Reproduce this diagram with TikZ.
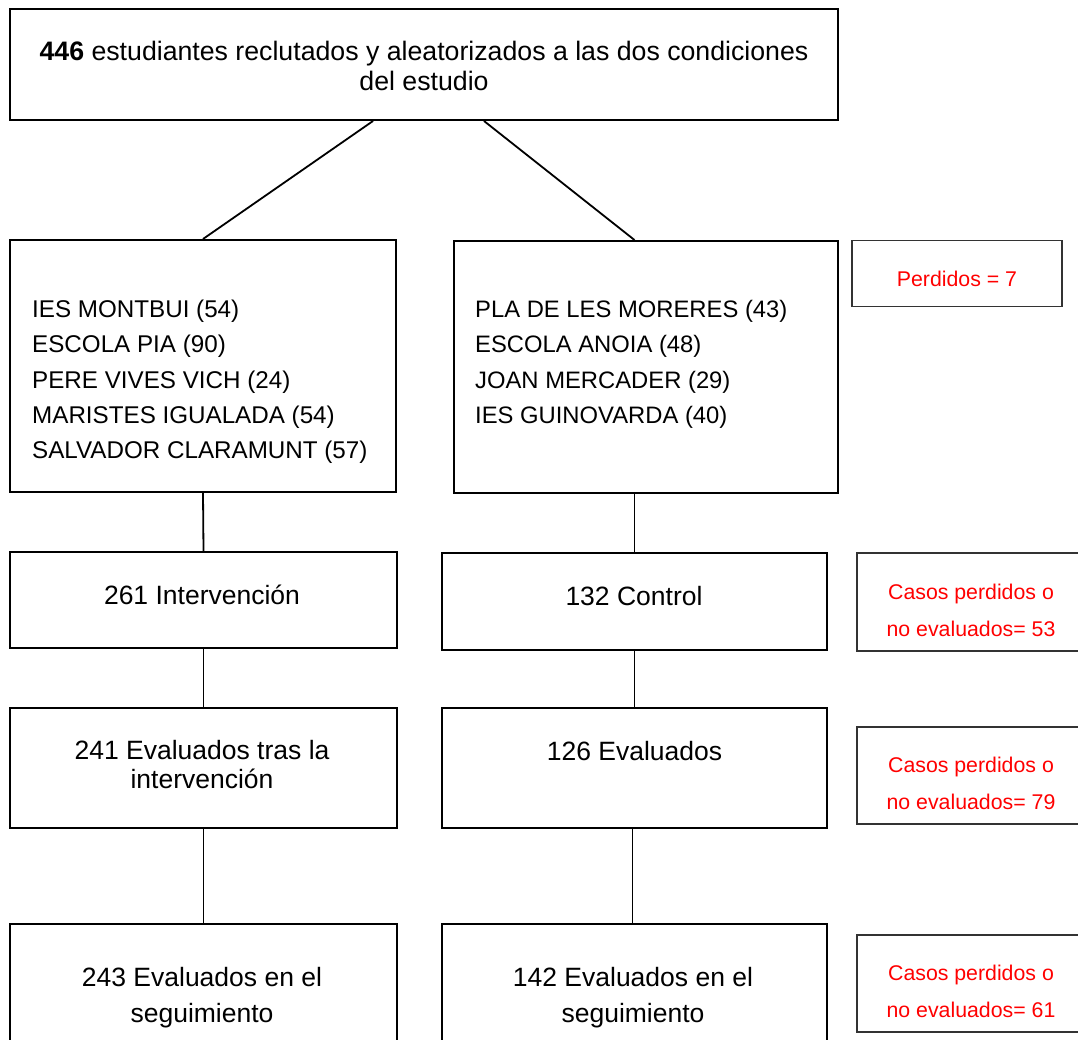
\documentclass[tikz,border=0pt]{standalone}
\usepackage{fontspec}
\setmainfont{Liberation Sans}
\begin{document}
\begin{tikzpicture}[x=1pt,y=-1pt,
  box/.style={draw=black, line width=2pt, inner sep=0pt},
  redbox/.style={draw=black!80, line width=1.4pt, inner sep=0pt},
  conn/.style={draw=black, line width=1.8pt},
  txt/.style={inner sep=0pt, anchor=base, font=\fontsize{26.5}{30}\selectfont},
  lst/.style={inner sep=0pt, anchor=base west, font=\fontsize{24.2}{28}\selectfont},
  rtxt/.style={inner sep=0pt, anchor=base, text={rgb,255:red,255;green,0;blue,0}, font=\fontsize{21.3}{26}\selectfont}]
\fill[white] (0,0) rectangle (1078,1039);
\clip (0,0) rectangle (1078,1039);
% boxes
\node[box, minimum width=828pt, minimum height=111pt] (T) at (424,64.5) {};
\node[box, minimum width=386pt, minimum height=252pt] (L) at (203,366) {};
\node[box, minimum width=384pt, minimum height=252pt] (R) at (646,367) {};
\node[redbox, minimum width=210pt, minimum height=66pt] (P) at (957,273.5) {};
\node[box, minimum width=387pt, minimum height=96pt] (I) at (203.5,600) {};
\node[box, minimum width=385pt, minimum height=97pt] (C) at (634.5,601.5) {};
\node[redbox, minimum width=233pt, minimum height=98pt] (M1) at (973.5,602) {};
\node[box, minimum width=387pt, minimum height=120pt] (E1) at (203.5,767.5) {};
\node[box, minimum width=385pt, minimum height=120pt] (E2) at (634.5,768) {};
\node[redbox, minimum width=233pt, minimum height=97pt] (M2) at (973.5,775.5) {};
\node[box, minimum width=387pt, minimum height=136pt] (F1) at (203.5,992) {};
\node[box, minimum width=385pt, minimum height=136pt] (F2) at (634.5,992) {};
\node[redbox, minimum width=233pt, minimum height=97pt] (M3) at (973.5,983.5) {};
% texts
\node[txt, font=\fontsize{26.7}{30}\selectfont] (T1) at (424,60) {\textbf{446} estudiantes reclutados y aleatorizados a las dos condiciones};
\node[txt, font=\fontsize{26.7}{30}\selectfont] (T2) at (424,90.5) {del estudio};
\node[lst] (L1) at (32,317) {IES MONTBUI (54)};
\node[lst] (L2) at (32,352.5) {ESCOLA PIA (90)};
\node[lst] (L3) at (32,388) {PERE VIVES VICH (24)};
\node[lst] (L4) at (32,423) {MARISTES IGUALADA (54)};
\node[lst] (L5) at (32,458) {SALVADOR CLARAMUNT (57)};
\node[lst, font=\fontsize{23.8}{28}\selectfont] (R1) at (475,317) {PLA DE LES MORERES (43)};
\node[lst, font=\fontsize{23.8}{28}\selectfont] (R2) at (475,352.5) {ESCOLA ANOIA (48)};
\node[lst, font=\fontsize{23.8}{28}\selectfont] (R3) at (475,388) {JOAN MERCADER (29)};
\node[lst, font=\fontsize{23.8}{28}\selectfont] (R4) at (475,423) {IES GUINOVARDA (40)};
\node[rtxt] (P1) at (957,286) {Perdidos = 7};
\node[txt] (I1) at (202,604) {261 Intervención};
\node[txt] (C1) at (634,605) {132 Control};
\node[rtxt] (M1a) at (971,599) {Casos perdidos o};
\node[rtxt] (M1b) at (971,636) {no evaluados= 53};
\node[txt] (E1a) at (202,759) {241 Evaluados tras la};
\node[txt] (E1b) at (202,788.5) {intervención};
\node[txt] (E2a) at (634.5,760) {126 Evaluados};
\node[rtxt] (M2a) at (971,772) {Casos perdidos o};
\node[rtxt] (M2b) at (971,809) {no evaluados= 79};
\node[txt] (F1a) at (202,986) {243 Evaluados en el};
\node[txt] (F1b) at (202,1022.5) {seguimiento};
\node[txt] (F2a) at (633,986) {142 Evaluados en el};
\node[txt] (F2b) at (633,1022.5) {seguimiento};
\node[rtxt] (M3a) at (971,980.5) {Casos perdidos o};
\node[rtxt] (M3b) at (971,1017) {no evaluados= 61};
% connectors
\draw[conn] ([xshift=-51pt]T.south) -- (L.north);
\draw[conn] ([xshift=60pt]T.south) -- (R.north -| C.north);
\draw[conn] (L.south) -- (I.north);
\draw[conn] (C.north |- R.south) -- (C.north);
\draw[conn] (I.south) -- (E1.north);
\draw[conn] (C.south) -- (E2.north);
\draw[conn] (E1.south) -- (F1.north);
\draw[conn] ([xshift=-2pt]E2.south) -- ([xshift=-2pt]F2.north);
\end{tikzpicture}
\end{document}
